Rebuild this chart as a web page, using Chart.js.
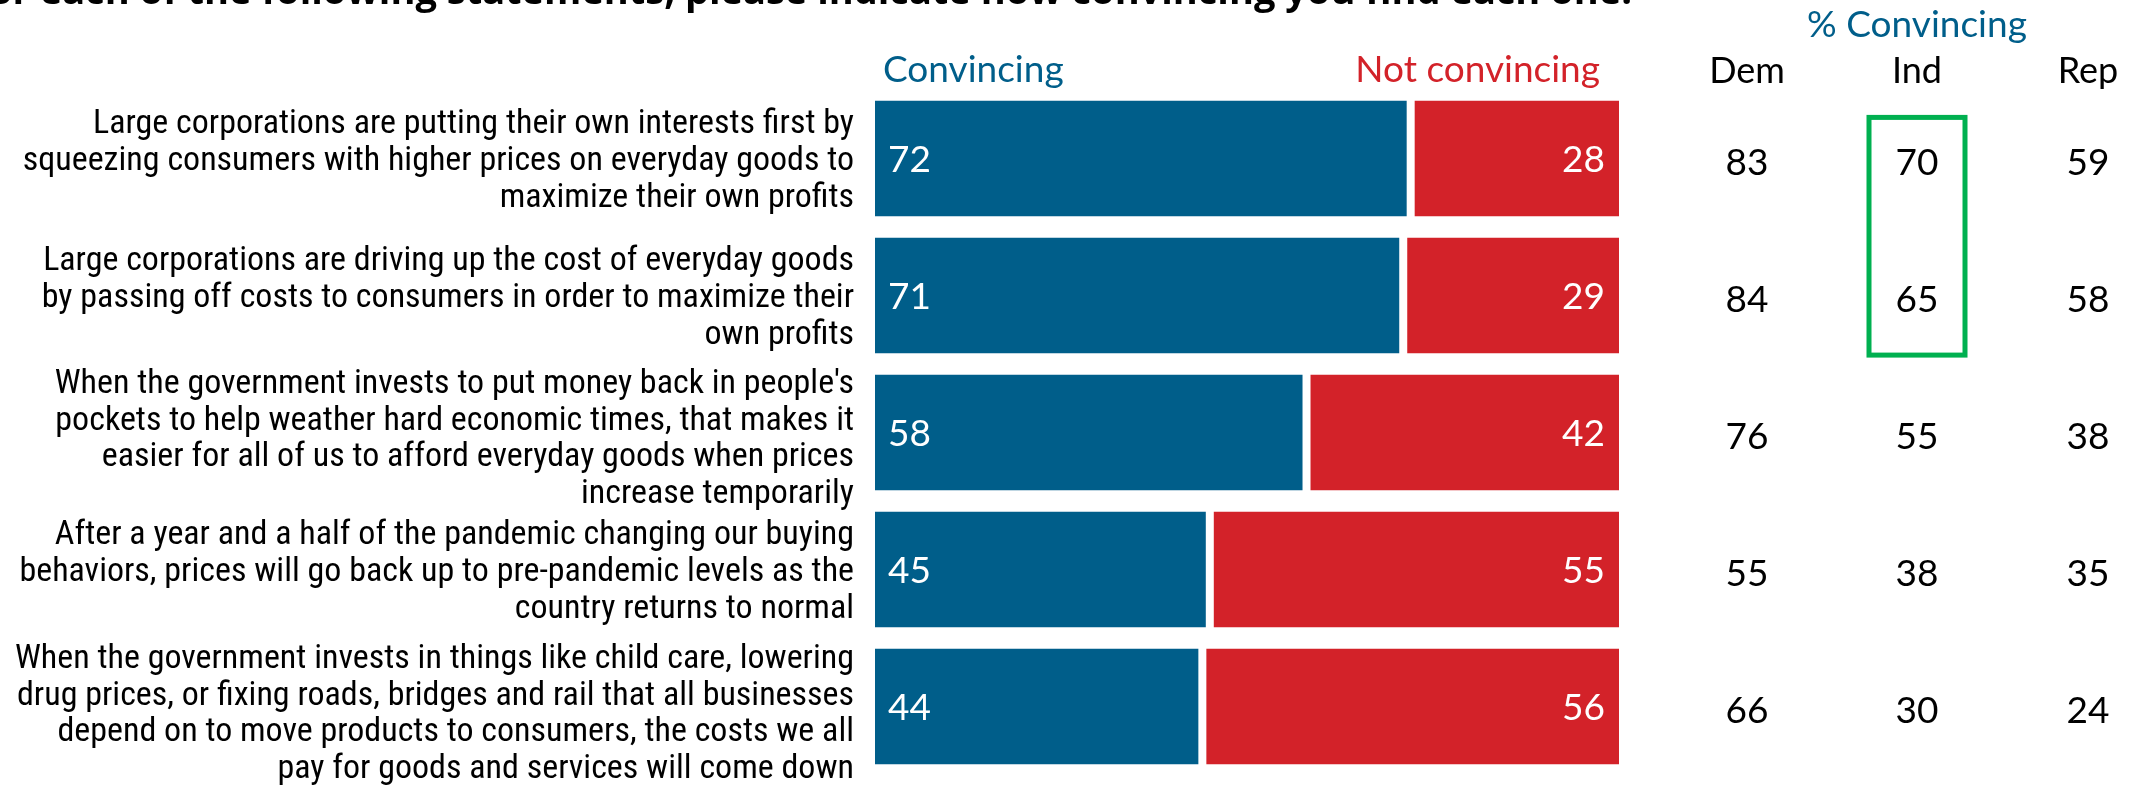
<!DOCTYPE html>
<html><head><meta charset="utf-8">
<script src="https://cdn.jsdelivr.net/npm/chart.js@4.4.0/dist/chart.umd.min.js"></script>
<style>html,body{margin:0;padding:0;background:#fff;overflow:hidden}canvas{display:block}</style>
</head><body>
<canvas id="c" width="2138" height="786"></canvas>
<script>
const title = "For each of the following statements, please indicate how convincing you find each one.";
const statements = [
  ["Large corporations are putting their own interests first by", "squeezing consumers with higher prices on everyday goods to", "maximize their own profits"],
  ["Large corporations are driving up the cost of everyday goods", "by passing off costs to consumers in order to maximize their", "own profits"],
  ["When the government invests to put money back in people's", "pockets to help weather hard economic times, that makes it", "easier for all of us to afford everyday goods when prices", "increase temporarily"],
  ["After a year and a half of the pandemic changing our buying", "behaviors, prices will go back up to pre-pandemic levels as the", "country returns to normal"],
  ["When the government invests in things like child care, lowering", "drug prices, or fixing roads, bridges and rail that all businesses", "depend on to move products to consumers, the costs we all", "pay for goods and services will come down"]
];
const seriesNames = ["Convincing", "Not convincing"];
const convincing = [72, 71, 58, 45, 44];
const notConvincing = [28, 29, 42, 55, 56];
const partyHeader = "% Convincing";
const partyGroups = ["Dem", "Ind", "Rep"];
const dem = [83, 84, 76, 55, 66];
const ind = [70, 65, 55, 38, 30];
const rep = [59, 58, 38, 35, 24];
const highlightGroup = 1;
const highlightRows = [0, 1];

// style: vertical nudge (px) of each statement's text block, as laid out in the original slide
const labelNudge = [0, 0, 4, 0, 5];

const BLUE = '#005e8a', RED = '#d32229', GREEN = '#00b050';
const NARROW = "'Liberation Sans Narrow','Roboto Condensed','DejaVu Sans Condensed','Arial Narrow',Roboto,sans-serif";
const MAIN = "Lato,'Open Sans',sans-serif";
Chart.defaults.font.family = MAIN;

const partyValues = [dem, ind, rep];
const partyX = [1747, 1917, 2088];

const overlay = {
  id: 'overlay',
  beforeDraw(chart) {
    const ys = chart.scales.y;
    if (ys && typeof ys.getLabelItems === 'function') {
      const items = ys.getLabelItems(chart.chartArea);
      items.forEach((it, i) => {
        if (it && !it._nudged && it.options && Array.isArray(it.options.translation) && labelNudge[i]) {
          it.options.translation[1] += labelNudge[i];
          it._nudged = true;
        }
      });
    }
  },
  afterDatasetsDraw(chart) {
    const ctx = chart.ctx;
    ctx.save();
    ctx.fillStyle = '#fff';
    ctx.font = `37px ${MAIN}`;
    ctx.textBaseline = 'middle';
    chart.getDatasetMeta(0).data.forEach((el, i) => {
      ctx.textAlign = 'left';
      ctx.fillText(String(convincing[i]), Math.min(el.x, el.base) + 13, el.y + 2);
    });
    chart.getDatasetMeta(1).data.forEach((el, i) => {
      ctx.textAlign = 'right';
      ctx.fillText(String(notConvincing[i]), Math.max(el.x, el.base) - 14, el.y + 2);
    });
    ctx.restore();
  },
  afterDraw(chart) {
    const ctx = chart.ctx, ca = chart.chartArea, ys = chart.scales.y;
    ctx.save();
    // title (cropped at top, as in the original)
    ctx.fillStyle = '#000';
    ctx.font = `bold 38px 'Open Sans',Lato,sans-serif`;
    ctx.textAlign = 'right';
    ctx.textBaseline = 'alphabetic';
    ctx.fillText(title, 1632, 4);
    // series headers
    ctx.font = `37px ${MAIN}`;
    ctx.fillStyle = BLUE;
    ctx.textAlign = 'left';
    ctx.fillText(seriesNames[0], ca.left + 8, 82);
    ctx.fillStyle = RED;
    ctx.textAlign = 'right';
    ctx.fillText(seriesNames[1], ca.right - 19, 82);
    // party header
    ctx.fillStyle = BLUE;
    ctx.textAlign = 'center';
    ctx.font = `37px ${MAIN}`;
    ctx.fillText(partyHeader, partyX[1], 37);
    ctx.fillStyle = '#000';
    ctx.font = `36px ${MAIN}`;
    partyGroups.forEach((g, k) => ctx.fillText(g, partyX[k], 83));
    // party values
    ctx.font = `37px ${MAIN}`;
    ctx.textBaseline = 'middle';
    partyValues.forEach((vals, k) => {
      vals.forEach((v, i) => ctx.fillText(String(v), partyX[k], ys.getPixelForValue(i) + 5));
    });
    // highlight box
    const pitch = ys.getPixelForValue(1) - ys.getPixelForValue(0);
    const top = ys.getPixelForValue(highlightRows[0]) - 0.3 * pitch;
    const bot = ys.getPixelForValue(highlightRows[highlightRows.length - 1]) + 0.435 * pitch;
    ctx.strokeStyle = GREEN;
    ctx.lineWidth = 5;
    ctx.strokeRect(partyX[highlightGroup] - 48, top, 96, bot - top);
    ctx.restore();
  }
};

new Chart(document.getElementById('c'), {
  type: 'bar',
  data: {
    labels: statements,
    datasets: [
      { label: seriesNames[0], data: convincing, backgroundColor: BLUE, borderColor: '#fff',
        borderWidth: { left: 0, top: 0, bottom: 0, right: 4 }, borderSkipped: false },
      { label: seriesNames[1], data: notConvincing, backgroundColor: RED, borderColor: '#fff',
        borderWidth: { left: 4, top: 0, bottom: 0, right: 0 }, borderSkipped: false }
    ]
  },
  options: {
    indexAxis: 'y',
    responsive: false,
    devicePixelRatio: 1,
    animation: false,
    events: [],
    layout: { padding: { top: 90, bottom: 11, left: 0, right: 519 } },
    datasets: { bar: { categoryPercentage: 1, barPercentage: 0.847 } },
    plugins: { legend: { display: false }, tooltip: { enabled: false }, title: { display: false } },
    scales: {
      x: { stacked: true, min: 0, max: 100, display: false },
      y: {
        stacked: true,
        grid: { display: false, drawTicks: false },
        border: { display: false },
        ticks: { color: '#000', font: { family: NARROW, size: 34, lineHeight: 1.088 }, padding: 21, labelOffset: 3, crossAlign: 'near', autoSkip: false },
        afterFit(s) { s.width = 875; s.paddingTop = 0; s.paddingBottom = 0; }
      }
    }
  },
  plugins: [overlay]
});
</script>
</body></html>
